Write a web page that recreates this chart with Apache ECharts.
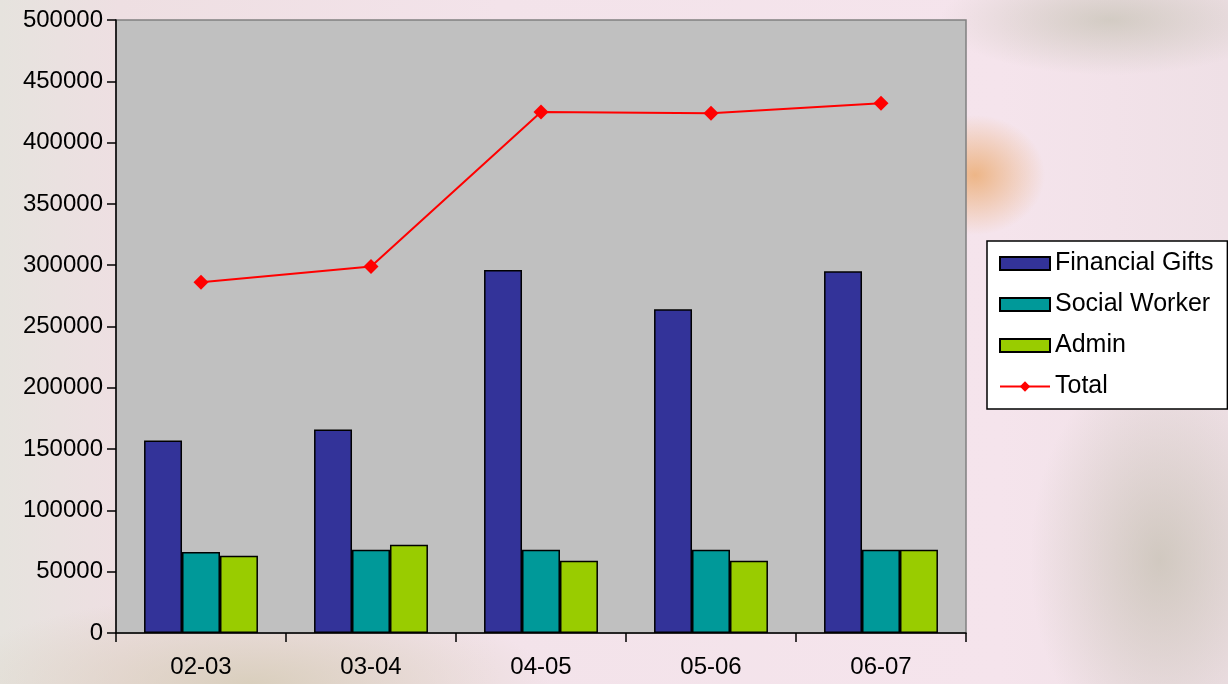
<!DOCTYPE html>
<html>
<head>
<meta charset="utf-8">
<script src="https://cdn.jsdelivr.net/npm/echarts@6/dist/echarts.min.js"></script>
<style>
html,body{margin:0;padding:0;width:1228px;height:684px;overflow:hidden;}
#bg{position:absolute;left:0;top:0;width:1228px;height:684px;
background:
 radial-gradient(ellipse 70px 60px at 975px 175px, rgba(235,170,110,0.8), rgba(235,170,110,0) 100%),
 radial-gradient(ellipse 170px 55px at 1110px 20px, rgba(185,185,165,0.55), rgba(185,185,165,0) 100%),
 radial-gradient(ellipse 130px 200px at 1160px 560px, rgba(195,190,175,0.7), rgba(195,190,175,0) 100%),
 radial-gradient(ellipse 300px 90px at 250px 684px, rgba(215,205,185,0.9), rgba(215,205,185,0) 100%),
 linear-gradient(90deg, #e6e3de 0px, #eedfe2 120px, #f3e3ea 500px, #f5e4ec 1000px, #efe0e6 1228px);}
#chart{position:absolute;left:0;top:0;width:1228px;height:684px;}
</style>
</head>
<body>
<div id="bg"></div>
<div id="chart"></div>
<script>
const categories = ['02-03', '03-04', '04-05', '05-06', '06-07'];
const financialGifts = [157000, 166000, 296000, 264000, 295000];
const socialWorker = [66000, 68000, 68000, 68000, 68000];
const admin = [63000, 72000, 59000, 59000, 68000];
const total = [286000, 299000, 425000, 424000, 432000];
const yTicks = { min: 0, max: 500000, interval: 50000 };

const FONT = '"Liberation Sans", Arial, sans-serif';
const chart = echarts.init(document.getElementById('chart'), null, { renderer: 'canvas' });
const barStyle = (c) => ({ color: c, borderColor: '#000', borderWidth: 1.5 });

chart.setOption({
  backgroundColor: 'transparent',
  animation: false,
  grid: {
    left: 116, right: 262, top: 20, bottom: 51,
    show: true, backgroundColor: '#C0C0C0', borderColor: '#808080', borderWidth: 1.5
  },
  legend: {
    orient: 'vertical',
    left: 987, top: 241,
    itemWidth: 50, itemHeight: 13, itemGap: 16, itemTextGap: 8,
    padding: [10, 14, 10, 12],
    backgroundColor: '#ffffff', borderColor: '#000', borderWidth: 1.5,
    textStyle: { fontSize: 25, fontFamily: FONT, color: '#000' },
    data: [
      { name: 'Financial Gifts', icon: 'rect' },
      { name: 'Social Worker', icon: 'rect' },
      { name: 'Admin', icon: 'rect' },
      { name: 'Total' }
    ]
  },
  xAxis: {
    type: 'category', data: categories, boundaryGap: true,
    axisLine: { lineStyle: { color: '#000', width: 1.5 } },
    axisTick: { show: true, length: 9, lineStyle: { color: '#000', width: 1.5 } },
    axisLabel: { fontSize: 24, fontFamily: FONT, color: '#000', margin: 22 },
    splitLine: { show: false }
  },
  yAxis: {
    type: 'value', min: yTicks.min, max: yTicks.max, interval: yTicks.interval,
    axisLine: { show: true, lineStyle: { color: '#000', width: 1.5 } },
    axisTick: { show: true, length: 9, lineStyle: { color: '#000', width: 1.5 } },
    axisLabel: { fontSize: 24, fontFamily: FONT, color: '#000', margin: 13,
      formatter: (v) => String(v) },
    splitLine: { show: false }
  },
  series: [
    { name: 'Financial Gifts', type: 'bar', data: financialGifts, itemStyle: barStyle('#333399'), barGap: '0%', barCategoryGap: '33%' },
    { name: 'Social Worker', type: 'bar', data: socialWorker, itemStyle: barStyle('#009999'), barGap: '0%', barCategoryGap: '33%' },
    { name: 'Admin', type: 'bar', data: admin, itemStyle: barStyle('#99CC00'), barGap: '0%', barCategoryGap: '33%' },
    { name: 'Total', type: 'line', data: total, symbol: 'diamond', symbolSize: 15,
      itemStyle: { color: '#FF0000' }, lineStyle: { color: '#FF0000', width: 2 } }
  ]
});
</script>
</body>
</html>
